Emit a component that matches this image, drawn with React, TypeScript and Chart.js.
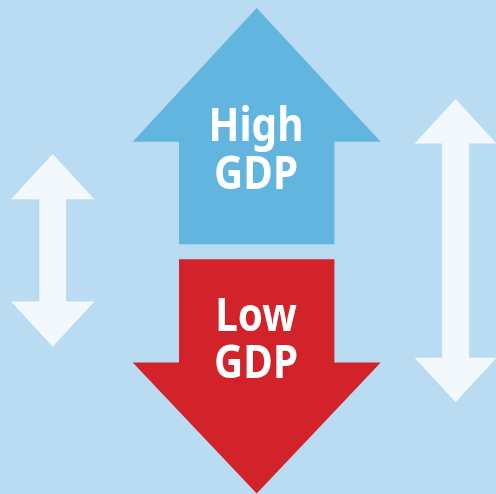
import React, { useEffect, useRef } from "react";
import { Chart, registerables } from "chart.js";

Chart.register(...registerables);

// ---- data (in chart units: x 0..496, y 0..494 measured from top) ----
const arrowNames = ["High GDP", "Low GDP", "Left range", "Right range"];
const arrowCenterX = [256.7, 256.7, 52.7, 455.6];
const arrowStartY = [244.3, 259.3, 154, 99];
const arrowEndY = [8, 493.5, 346.7, 402.3];
const arrowDoubleHeaded = [false, false, true, true];

const labelLines = [
  ["High", "GDP"],
  ["Low", "GDP"],
];
const labelX = [256, 256];
const labelBaselines = [
  [141, 189],
  [330.7, 378.3],
];

// ---- styles ----
const BG = "#b9dcf3";
const arrowColors = ["#62b5de", "#d2232a", "#f3f8fd", "#f3f8fd"];
const shaftHalf = [77.7, 77.7, 13.4, 13.5];
const headHalf = [124, 124, 41.7, 41];
const headLen = [133.7, 131, 45.2, 44.6];
const LABEL_FONT = "bold 47px 'Noto Sans'";
const LABEL_XSCALE = 0.86;

function arrowPolygon(i: number) {
  const cx = arrowCenterX[i];
  const a = arrowStartY[i];
  const b = arrowEndY[i];
  const dir = b > a ? 1 : -1;
  const s = shaftHalf[i];
  const h = headHalf[i];
  const L = headLen[i];
  const pts: { x: number; y: number }[] = [];
  const endBase = b - dir * L;
  if (arrowDoubleHeaded[i]) {
    const startBase = a + dir * L;
    pts.push({ x: cx, y: a });
    pts.push({ x: cx + h, y: startBase });
    pts.push({ x: cx + s, y: startBase });
    pts.push({ x: cx + s, y: endBase });
    pts.push({ x: cx + h, y: endBase });
    pts.push({ x: cx, y: b });
    pts.push({ x: cx - h, y: endBase });
    pts.push({ x: cx - s, y: endBase });
    pts.push({ x: cx - s, y: startBase });
    pts.push({ x: cx - h, y: startBase });
    pts.push({ x: cx, y: a });
  } else {
    pts.push({ x: cx - s, y: a });
    pts.push({ x: cx + s, y: a });
    pts.push({ x: cx + s, y: endBase });
    pts.push({ x: cx + h, y: endBase });
    pts.push({ x: cx, y: b });
    pts.push({ x: cx - h, y: endBase });
    pts.push({ x: cx - s, y: endBase });
    pts.push({ x: cx - s, y: a });
  }
  return pts;
}

const bgPlugin = {
  id: "bgFill",
  beforeDraw(chart: any) {
    const { ctx, width, height } = chart;
    ctx.save();
    ctx.fillStyle = BG;
    ctx.fillRect(0, 0, width, height);
    ctx.restore();
  },
};

const labelPlugin = {
  id: "arrowLabels",
  afterDatasetsDraw(chart: any) {
    const { ctx } = chart;
    const xs = chart.scales.x;
    const ys = chart.scales.y;
    labelLines.forEach((lines, i) => {
      lines.forEach((t, j) => {
        const px = xs.getPixelForValue(labelX[i]);
        const py = ys.getPixelForValue(labelBaselines[i][j]);
        ctx.save();
        ctx.fillStyle = "#ffffff";
        ctx.textAlign = "center";
        ctx.textBaseline = "alphabetic";
        ctx.font = LABEL_FONT;
        ctx.translate(px, py);
        ctx.scale(LABEL_XSCALE, 1);
        ctx.fillText(t, 0, 0);
        ctx.restore();
      });
    });
  },
};

export default function App() {
  const ref = useRef<HTMLCanvasElement | null>(null);
  useEffect(() => {
    document.body.style.margin = "0";
    const canvas = ref.current;
    if (!canvas) return;
    const chart = new Chart(canvas, {
      type: "scatter",
      data: {
        datasets: arrowNames.map((name, i) => ({
          label: name,
          data: arrowPolygon(i),
          showLine: true,
          fill: "shape",
          tension: 0,
          backgroundColor: arrowColors[i],
          borderColor: arrowColors[i],
          borderWidth: 0,
          pointRadius: 0,
          pointHoverRadius: 0,
        })),
      },
      options: {
        responsive: false,
        animation: false,
        events: [],
        layout: { padding: 0 },
        plugins: {
          legend: { display: false },
          tooltip: { enabled: false },
        },
        scales: {
          x: { type: "linear", min: 0, max: 496, display: false },
          y: { type: "linear", min: 0, max: 494, reverse: true, display: false },
        },
      },
      plugins: [bgPlugin, labelPlugin],
    });
    return () => chart.destroy();
  }, []);
  return (
    <div style={{ width: 496, height: 494 }}>
      <canvas ref={ref} width={496} height={494} style={{ display: "block", width: 496, height: 494 }} />
    </div>
  );
}
